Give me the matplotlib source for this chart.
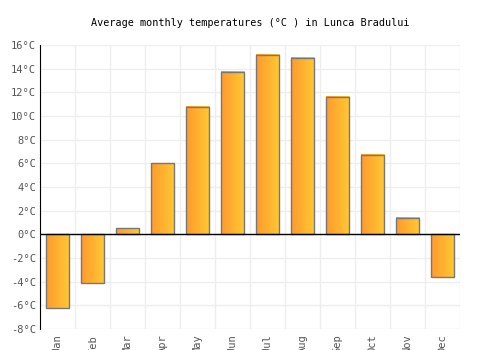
import numpy as np
import matplotlib.pyplot as plt
from matplotlib.colors import LinearSegmentedColormap

months = ['Jan', 'Feb', 'Mar', 'Apr', 'May', 'Jun', 'Jul', 'Aug', 'Sep', 'Oct', 'Nov', 'Dec']
temps = [-6.2, -4.1, 0.5, 6.0, 10.8, 13.7, 15.2, 14.9, 11.6, 6.7, 1.4, -3.6]
yticks = list(range(-8, 17, 2))

plt.rcParams['font.family'] = 'DejaVu Sans Mono'

fig = plt.figure(figsize=(5, 3.5), dpi=100)
ax = fig.add_axes([0.08, 0.06, 0.84, 0.811])

cmap = LinearSegmentedColormap.from_list('og', ['#ff9a2e', '#ffc933'])
grad = np.linspace(0, 1, 64).reshape(1, -1)

x = np.arange(len(months))
w = 0.67
for xi, t in zip(x, temps):
    ax.imshow(grad, cmap=cmap, extent=[xi - w / 2, xi + w / 2, min(0, t), max(0, t)],
              aspect='auto', zorder=2, interpolation='bilinear')
    ax.bar(xi, t, width=w, facecolor='none', edgecolor='#777777', linewidth=1, zorder=3)

ax.set_xlim(-0.5, len(months) - 0.5)
ax.set_ylim(-8, 16)
ax.set_yticks(yticks)
ax.set_yticklabels([f'{v}°C' for v in yticks], fontsize=7.5, color='#555555')
ax.set_xticks(x)
ax.set_xticklabels(months, rotation=90, fontsize=7.5, color='#555555')
ax.tick_params(axis='x', which='both', length=0, pad=4)
ax.tick_params(axis='y', length=0, pad=3)

ax.grid(False)
for v in yticks:
    ax.axhline(v, color='#eeeeee', linewidth=1, zorder=0)
for xv in np.arange(-0.5, len(months), 1):
    ax.axvline(xv, color='#eeeeee', linewidth=1, zorder=0)
ax.axhline(0, color='black', linewidth=1, zorder=4)

for s in ['top', 'right', 'bottom']:
    ax.spines[s].set_visible(False)
ax.spines['left'].set_color('black')
ax.spines['left'].set_zorder(5)

fig.suptitle('Average monthly temperatures (°C ) in Lunca Bradului', fontsize=7.3, y=0.95)

fig.savefig('out.png', dpi=100)
